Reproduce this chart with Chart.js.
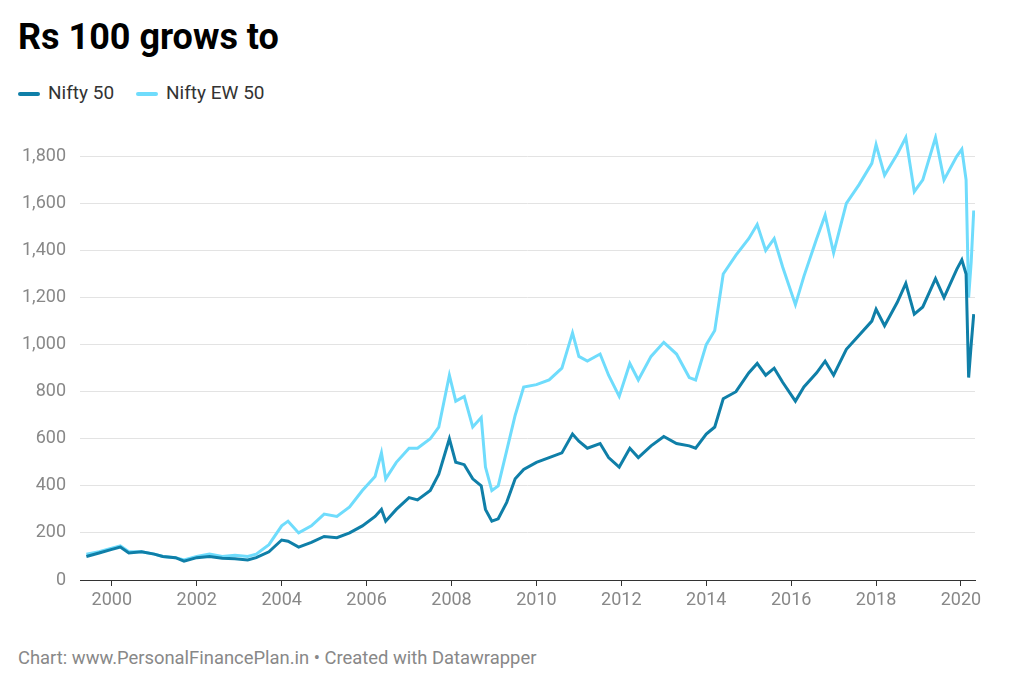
<!DOCTYPE html>
<html><head><meta charset="utf-8">
<script src="https://cdn.jsdelivr.net/npm/chart.js@4"></script>
<style>
body{margin:0;background:#fff;font-family:Roboto,sans-serif;width:1024px;height:694px;overflow:hidden;position:relative}
#t{position:absolute;left:18px;top:16px;font-size:36px;font-weight:700;color:#000}
#lg{position:absolute;left:18px;top:81px;font-size:19px;color:#333;display:flex;gap:22px}
#lg span i{display:inline-block;width:22px;height:4px;vertical-align:middle;margin-right:8px;border-radius:2px}
#f{position:absolute;left:18px;top:647px;font-size:18.4px;color:#888}
#c{position:absolute;left:0;top:108px}
</style></head><body>
<div id="t">Rs 100 grows to</div>
<div id="lg"><span><i style="background:#0f7fa8"></i>Nifty 50</span><span><i style="background:#6fdcfc"></i>Nifty EW 50</span></div>
<div id="f">Chart: www.PersonalFinancePlan.in • Created with Datawrapper</div>
<canvas id="c" width="1024" height="522"></canvas>
<script>
const years=[1999.4,1999.7,2000.0,2000.2,2000.4,2000.7,2001.0,2001.2,2001.5,2001.7,2002.0,2002.3,2002.6,2002.9,2003.2,2003.4,2003.7,2004.0,2004.15,2004.4,2004.7,2005.0,2005.3,2005.6,2005.9,2006.2,2006.35,2006.45,2006.7,2007.0,2007.2,2007.5,2007.7,2007.95,2008.1,2008.3,2008.5,2008.7,2008.8,2008.95,2009.1,2009.3,2009.5,2009.7,2010.0,2010.3,2010.6,2010.85,2011.0,2011.2,2011.5,2011.7,2011.95,2012.2,2012.4,2012.7,2013.0,2013.3,2013.6,2013.75,2014.0,2014.2,2014.4,2014.7,2015.0,2015.2,2015.4,2015.6,2015.8,2016.1,2016.3,2016.6,2016.8,2017.0,2017.3,2017.6,2017.9,2018.0,2018.2,2018.5,2018.7,2018.9,2019.1,2019.4,2019.6,2019.9,2020.02,2020.12,2020.18,2020.24,2020.3];
const nifty50=[100,115,130,140,115,120,110,100,95,80,95,100,92,90,85,95,120,170,165,140,160,185,180,200,230,270,300,250,300,350,340,380,450,600,500,490,430,400,300,250,260,330,430,470,500,520,540,620,590,560,580,520,480,560,520,570,610,580,570,560,620,650,770,800,880,920,870,900,840,760,820,880,930,870,980,1040,1100,1150,1080,1180,1260,1130,1160,1280,1200,1320,1360,1300,860,1000,1130];
const niftyEW50=[110,120,135,145,120,120,110,100,95,85,100,110,100,105,100,110,150,230,250,200,230,280,270,310,380,440,540,430,500,560,560,600,650,870,760,780,650,690,480,380,400,550,700,820,830,850,900,1050,950,930,960,870,780,920,850,950,1010,960,860,850,1000,1060,1300,1380,1450,1510,1400,1450,1330,1170,1290,1450,1550,1390,1600,1680,1770,1850,1720,1810,1880,1650,1700,1880,1700,1800,1830,1700,1200,1350,1570];
const yTicks=[0,200,400,600,800,1000,1200,1400,1600,1800];
const xTicks=[2000,2002,2004,2006,2008,2010,2012,2014,2016,2018,2020];
const pts=a=>years.map((x,i)=>({x,y:a[i]}));
new Chart(document.getElementById('c'),{type:'line',
data:{datasets:[
{label:'Nifty 50',data:pts(nifty50),borderColor:'#0f7fa8',borderWidth:3,pointRadius:0,tension:0},
{label:'Nifty EW 50',data:pts(niftyEW50),borderColor:'#6fdcfc',borderWidth:3,pointRadius:0,tension:0}]},
options:{responsive:false,animation:false,layout:{padding:{top:10,right:49}},
plugins:{legend:{display:false},tooltip:{enabled:false}},
scales:{
x:{type:'linear',min:1999.25,max:2020.33,afterBuildTicks:s=>{s.ticks=xTicks.map(v=>({value:v}))},
ticks:{color:'#888',font:{family:'Roboto',size:18},callback:v=>String(v),padding:4,maxRotation:0},
grid:{display:true,drawOnChartArea:false,tickLength:6,color:'#333'},border:{color:'#333'},afterFit:s=>{s.height=50}},
y:{min:0,max:1900,afterBuildTicks:s=>{s.ticks=yTicks.map(v=>({value:v}))},
ticks:{color:'#888',font:{family:'Roboto',size:18},padding:14,callback:v=>v.toLocaleString('en-US')},
grid:{color:'#e3e3e3',drawTicks:false},border:{display:false},afterFit:s=>{s.width=80}}}}});
</script></body></html>
